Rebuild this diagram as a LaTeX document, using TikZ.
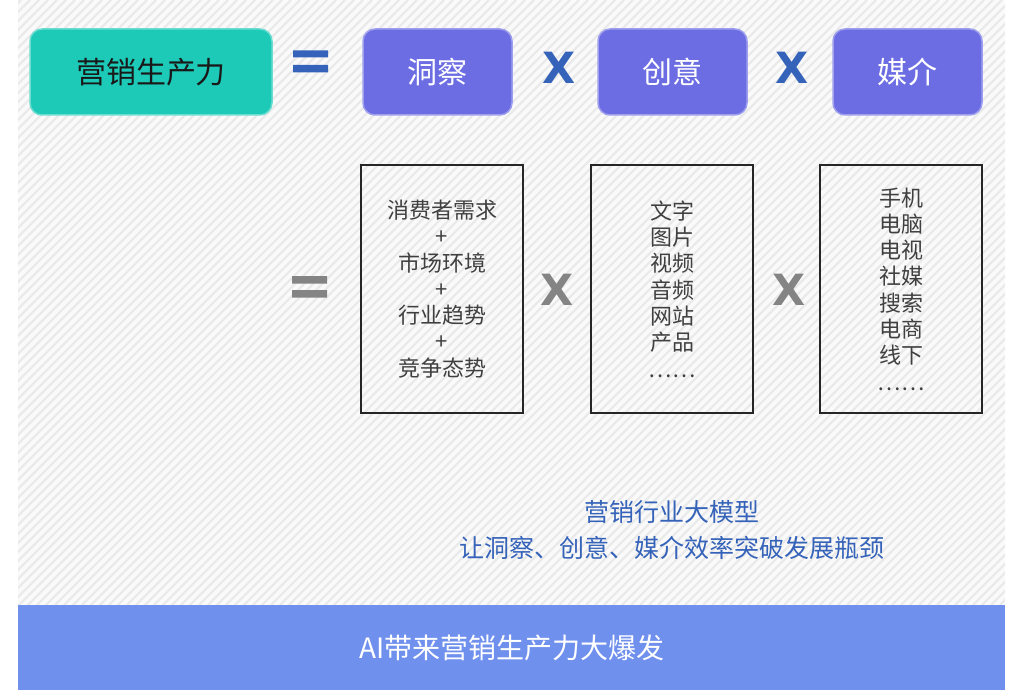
\documentclass[tikz,border=0pt]{standalone}
\usepackage{fontspec}
\setmainfont{Noto Sans CJK SC}
\newfontfamily\opfont{DejaVu Sans}
\usepackage{xcolor}
\usetikzlibrary{positioning,calc}

\definecolor{tealbox}{HTML}{1DCAB7}
\definecolor{purplebox}{HTML}{6C6DE3}
\definecolor{opblue}{HTML}{3563B9}
\definecolor{opgray}{HTML}{848484}
\definecolor{barblue}{HTML}{7090EE}
\definecolor{stripe}{HTML}{EAEAEA}

\begin{document}
\begin{tikzpicture}[x=1pt, y=-1pt, on grid,
    topbox/.style={fill=#1, draw=#1!65!white, line width=1.5pt, rounded corners=12pt,
      minimum width=149pt, minimum height=86pt, text=white,
      font=\fontsize{30}{36}\selectfont},
    listbox/.style={draw=black!85, line width=1.6pt, minimum width=162pt, minimum height=248pt,
      align=center, text=black!75, font=\fontsize{22}{26.3}\selectfont},
    op/.style={font=\opfont\bfseries\fontsize{43}{43}\selectfont, inner sep=0pt}]
  \useasboundingbox (0,0) rectangle (1013,698);
  % striped background
  \fill[white] (0,0) rectangle (1013,698);
  \begin{scope}
    \clip (18,0) rectangle (1005,605);
    \fill[black!2] (18,0) rectangle (1005,605);
    \foreach \i in {-620,-611,...,1010}
      \draw[stripe, line width=2.4pt] (\i,605) -- ++(605,-605);
  \end{scope}

  % top row
  \node[topbox=tealbox, minimum width=242pt, text=black!90] (P) at (151,72) {营销生产力};
  \node[topbox=purplebox] (I) at (437.5,72) {洞察};
  \node[topbox=purplebox, right=235pt of I] (C) {创意};
  \node[topbox=purplebox, right=235pt of C] (M) {媒介};
  \fill[opblue] (293,50.5) rectangle (328,57.5) (293,65) rectangle (328,72.5);
  \node[op, text=opblue] (x1) at (559,67.5) {X};
  \node[op, text=opblue] (x2) at (792,67.5) {X};

  % second row
  \node[listbox] (L1) at (442,289) {消费者需求\\+\\市场环境\\+\\行业趋势\\+\\竞争态势};
  \node[listbox, right=230pt of L1] (L2) {文字\\图片\\视频\\音频\\网站\\产品\\……};
  \node[listbox, right=229pt of L2] (L3) {手机\\电脑\\电视\\社媒\\搜索\\电商\\线下\\……};
  \fill[opgray] (292,276) rectangle (327,283.5) (292,290) rectangle (327,297.5);
  \node[op, text=opgray] (x3) at (557,290) {X};
  \node[op, text=opgray] (x4) at (789,290) {X};

  % model text and bottom bar
  \node[align=center, text=opblue, font=\fontsize{25}{36}\selectfont] (T) at (672,530)
    {营销行业大模型\\让洞察、创意、媒介效率突破发展瓶颈};
  \fill[barblue] (18,605) rectangle (1005,690);
  \node[text=white, font=\fontsize{28}{34}\selectfont] (B) at (512,648) {AI带来营销生产力大爆发};
\end{tikzpicture}
\end{document}
